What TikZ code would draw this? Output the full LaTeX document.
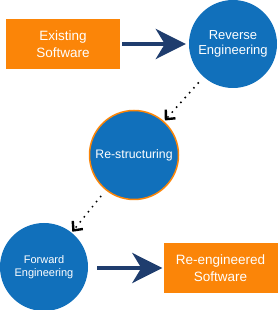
\documentclass[tikz,border=0pt]{standalone}
\usepackage{fontspec}
\setmainfont{Liberation Sans}
\usetikzlibrary{positioning,arrows.meta}
\definecolor{swbox}{HTML}{FB8508}
\definecolor{stageblue}{HTML}{1170BB}
\definecolor{flowink}{HTML}{1F3D6E}

\begin{document}
\begin{tikzpicture}[
  x=1pt, y=1pt,
  swbox/.style={
    fill=swbox, text=white, align=center, font=\fontsize{13.5}{16.5}\selectfont,
    minimum width=114pt, minimum height=50pt, inner sep=2pt
  },
  stage/.style={
    circle, fill=stageblue, text=white, align=center,
    font=\fontsize{13}{15.5}\selectfont, minimum size=88pt, inner sep=0pt
  },
  flow/.style={-{Stealth[length=30pt, width=30pt, inset=9pt]}, flowink, line width=4pt},
  hand/.style={-{Straight Barb[length=7pt, width=13pt, line width=2.4pt]}, black,
    line width=2.2pt, line cap=round, dash pattern=on 0pt off 6.5pt,
    shorten <=8pt, shorten >=1pt},
]
\useasboundingbox (0,0) rectangle (278,310);

% ---------------- stages
\node[swbox] (es) at (63,266) {Existing\\Software};
\node[stage] (re) at (233,266) {Reverse\\Engineering};
\node[stage, minimum size=89pt, draw=swbox, line width=1.5pt,
  font=\fontsize{12.3}{14}\selectfont] (rs) at (134,155) {Re-structuring};
\node[stage, font=\fontsize{11}{13.5}\selectfont] (fe) at (44,43) {Forward\\Engineering};
\node[swbox] (ns) at (220.5,42) {Re-engineered\\Software};

% ---------------- connectors
\draw[flow, shorten <=2pt, shorten >=3pt] (es.east) -- (re.west|-es.east);
\draw[hand] (re) -- (rs);
\draw[hand] (rs) -- (fe);
\draw[flow, shorten <=9pt, shorten >=1pt] (fe.east|-ns.west) -- (ns.west);

\end{tikzpicture}
\end{document}
